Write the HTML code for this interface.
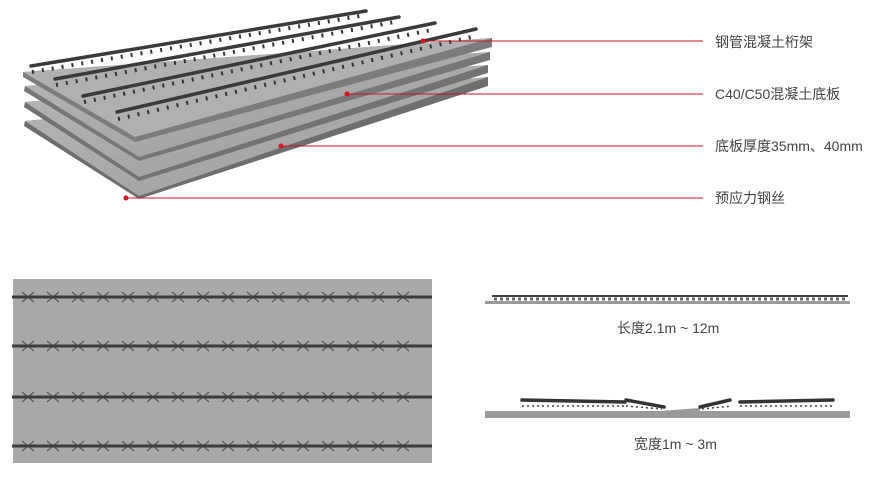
<!DOCTYPE html>
<html><head><meta charset="utf-8"><style>
html,body{margin:0;padding:0;background:#fff;width:895px;height:479px;overflow:hidden}
svg{display:block}
text{font-family:"Liberation Sans","Noto Sans CJK SC",sans-serif;fill:#444;font-size:14px}
</style></head><body>
<svg width="895" height="479" viewBox="0 0 895 479" xmlns="http://www.w3.org/2000/svg">
<defs>
<linearGradient id="sl" x1="0" y1="0" x2="1" y2="1"><stop offset="0" stop-color="#b8b8b8"/><stop offset="1" stop-color="#9a9a9a"/></linearGradient>
</defs>
<!-- slabs bottom to top -->
<polygon points="25,121 488,77 488,86 139,199 24,126" fill="#6e6e6e"/>
<polygon points="25,121 488,77 139,196" fill="url(#sl)"/>
<polygon points="25,102 488,65 488,73 139,181 24,107" fill="#737373"/>
<polygon points="25,102 488,65 139,177" fill="url(#sl)"/>
<polygon points="25,86 490,52 490,60 139,161 24,91" fill="#777"/>
<polygon points="25,86 490,52 139,157" fill="url(#sl)"/>
<polygon points="23,72 492,38 492,47 135,142 23,77" fill="#7c7c7c"/>
<polygon points="23,72 492,38 135,137" fill="#b0b0b0"/>
<!-- trusses -->
<g stroke="#333" fill="none" stroke-dasharray="2 8" stroke-width="4">
<line x1="32" y1="72" x2="366" y2="15"/>
<line x1="56" y1="85" x2="400" y2="21"/>
<line x1="84" y1="102" x2="436" y2="29"/>
<line x1="118" y1="119" x2="476" y2="36"/>
</g>
<g stroke="#3a3a3a" stroke-width="3.5" stroke-linecap="round">
<line x1="31" y1="66" x2="366" y2="11"/>
<line x1="55" y1="79" x2="399" y2="17"/>
<line x1="83" y1="96" x2="435" y2="23"/>
<line x1="117" y1="112" x2="476" y2="29"/>
</g>
<!-- leader lines -->
<g stroke="#c8161e" stroke-width="1">
<line x1="423" y1="41" x2="703" y2="41"/>
<line x1="347" y1="94" x2="703" y2="94"/>
<line x1="281" y1="146" x2="703" y2="146"/>
<line x1="126" y1="198" x2="703" y2="198"/>
</g>
<g fill="#d2161e">
<circle cx="423" cy="41" r="2.5"/><circle cx="347" cy="94" r="2.5"/><circle cx="281" cy="146" r="2.5"/><circle cx="126" cy="198" r="2.5"/>
</g>
<text x="715" y="47">钢管混凝土桁架</text>
<text x="715" y="99">C40/C50混凝土底板</text>
<text x="715" y="151">底板厚度35mm、40mm</text>
<text x="715" y="203">预应力钢丝</text>
<!-- plan view -->
<rect x="13" y="279" width="419" height="184" fill="#a9a9a9"/>
<g stroke="#585858" stroke-width="1.2">
<path d="M22,292 L34,302 M22,302 L34,292 M47,292 L59,302 M47,302 L59,292 M72,292 L84,302 M72,302 L84,292 M97,292 L109,302 M97,302 L109,292 M122,292 L134,302 M122,302 L134,292 M147,292 L159,302 M147,302 L159,292 M172,292 L184,302 M172,302 L184,292 M197,292 L209,302 M197,302 L209,292 M222,292 L234,302 M222,302 L234,292 M247,292 L259,302 M247,302 L259,292 M272,292 L284,302 M272,302 L284,292 M297,292 L309,302 M297,302 L309,292 M322,292 L334,302 M322,302 L334,292 M347,292 L359,302 M347,302 L359,292 M372,292 L384,302 M372,302 L384,292 M397,292 L409,302 M397,302 L409,292"/>
<path transform="translate(0,49)" d="M22,292 L34,302 M22,302 L34,292 M47,292 L59,302 M47,302 L59,292 M72,292 L84,302 M72,302 L84,292 M97,292 L109,302 M97,302 L109,292 M122,292 L134,302 M122,302 L134,292 M147,292 L159,302 M147,302 L159,292 M172,292 L184,302 M172,302 L184,292 M197,292 L209,302 M197,302 L209,292 M222,292 L234,302 M222,302 L234,292 M247,292 L259,302 M247,302 L259,292 M272,292 L284,302 M272,302 L284,292 M297,292 L309,302 M297,302 L309,292 M322,292 L334,302 M322,302 L334,292 M347,292 L359,302 M347,302 L359,292 M372,292 L384,302 M372,302 L384,292 M397,292 L409,302 M397,302 L409,292"/>
<path transform="translate(0,100)" d="M22,292 L34,302 M22,302 L34,292 M47,292 L59,302 M47,302 L59,292 M72,292 L84,302 M72,302 L84,292 M97,292 L109,302 M97,302 L109,292 M122,292 L134,302 M122,302 L134,292 M147,292 L159,302 M147,302 L159,292 M172,292 L184,302 M172,302 L184,292 M197,292 L209,302 M197,302 L209,292 M222,292 L234,302 M222,302 L234,292 M247,292 L259,302 M247,302 L259,292 M272,292 L284,302 M272,302 L284,292 M297,292 L309,302 M297,302 L309,292 M322,292 L334,302 M322,302 L334,292 M347,292 L359,302 M347,302 L359,292 M372,292 L384,302 M372,302 L384,292 M397,292 L409,302 M397,302 L409,292"/>
<path transform="translate(0,149)" d="M22,292 L34,302 M22,302 L34,292 M47,292 L59,302 M47,302 L59,292 M72,292 L84,302 M72,302 L84,292 M97,292 L109,302 M97,302 L109,292 M122,292 L134,302 M122,302 L134,292 M147,292 L159,302 M147,302 L159,292 M172,292 L184,302 M172,302 L184,292 M197,292 L209,302 M197,302 L209,292 M222,292 L234,302 M222,302 L234,292 M247,292 L259,302 M247,302 L259,292 M272,292 L284,302 M272,302 L284,292 M297,292 L309,302 M297,302 L309,292 M322,292 L334,302 M322,302 L334,292 M347,292 L359,302 M347,302 L359,292 M372,292 L384,302 M372,302 L384,292 M397,292 L409,302 M397,302 L409,292"/>
</g>
<g stroke="#3c3c3c" stroke-width="3">
<line x1="12" y1="297" x2="432" y2="297"/>
<line x1="12" y1="346" x2="432" y2="346"/>
<line x1="12" y1="397" x2="432" y2="397"/>
<line x1="12" y1="446" x2="432" y2="446"/>
</g>
<!-- side view length -->
<rect x="485" y="301" width="365" height="3" fill="#9a9a9a"/>
<line x1="492" y1="296" x2="848" y2="296" stroke="#444" stroke-width="2"/>
<line x1="494" y1="299" x2="846" y2="299" stroke="#666" stroke-width="3" stroke-dasharray="3 3"/>
<text x="617" y="333">长度2.1m ~ 12m</text>
<!-- side view width -->
<rect x="485" y="411" width="365" height="7" fill="#9a9a9a"/>
<polygon points="660,411 700,408 700,412" fill="#9a9a9a"/>
<g stroke="#333" stroke-width="3.5" stroke-linecap="round">
<line x1="522" y1="400" x2="625" y2="402"/>
<line x1="626" y1="400" x2="664" y2="407"/>
<line x1="700" y1="407" x2="730" y2="400"/>
<line x1="740" y1="402" x2="833" y2="400"/>
</g>
<g stroke="#444" stroke-width="1.5" stroke-dasharray="2 3">
<line x1="522" y1="406" x2="625" y2="406"/><line x1="626" y1="406" x2="662" y2="409"/>
<line x1="702" y1="409" x2="732" y2="406"/><line x1="740" y1="406" x2="833" y2="406"/>
</g>
<text x="634" y="449">宽度1m ~ 3m</text>
</svg>
</body></html>
